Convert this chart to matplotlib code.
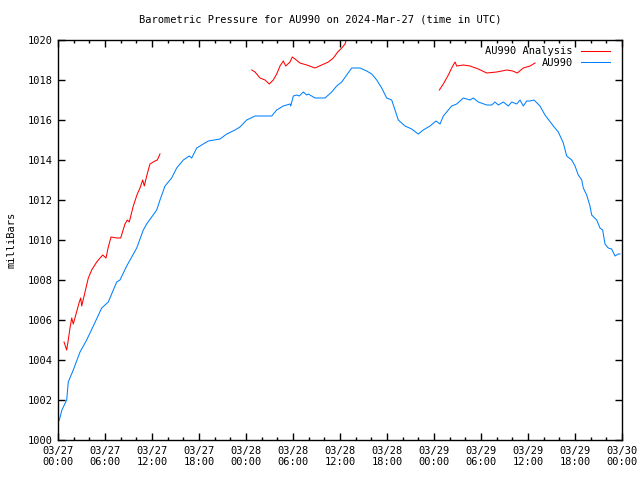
import numpy as np
import matplotlib
matplotlib.use("Agg")
import matplotlib.pyplot as plt
from matplotlib.ticker import MultipleLocator
from datetime import datetime, timedelta

# hours since 2024-03-27 00:00 UTC, pressure in mbar
BLUE_HOURS = [0, 0.17, 0.5, 1.11, 1.31, 1.95, 2.81, 3.66, 4.51, 5.58, 6.42, 7.49, 7.91,
              8.77, 10.05, 10.89, 11.32, 12.60, 13.02, 13.66, 14.51, 15.15, 16.0, 16.76,
              17.07, 17.71, 18.34, 19.19, 20.68, 21.54, 22.60, 23.23, 24.09, 25.15, 27.28,
              27.92, 28.76, 29.62, 29.71, 30.04, 30.47, 30.80, 31.31, 31.75, 31.95, 32.81,
              34.09, 34.94, 35.58, 36.22, 36.86, 37.49, 37.91, 38.55, 39.41, 40.05, 40.69,
              41.32, 41.96, 42.60, 43.02, 43.44, 44.30, 45.15, 45.99, 46.63, 47.49, 48.26,
              48.77, 49.19, 50.26, 50.90, 51.74, 52.60, 53.02, 53.66, 54.73, 55.37, 55.79,
              56.21, 56.85, 57.49, 57.92, 58.56, 58.98, 59.40, 59.83, 60.26, 60.77, 61.53,
              62.17, 63.23, 63.87, 64.51, 64.94, 65.58, 66.0, 66.42, 66.86, 67.06, 67.49,
              67.91, 68.13, 68.77, 69.19, 69.53, 69.83, 70.25, 70.68, 71.11, 71.53, 71.74]
BLUE_MBAR = [1000.9, 1001.0, 1001.5, 1002.0, 1002.9, 1003.5, 1004.4, 1005.0, 1005.7, 1006.6,
             1006.9, 1007.9, 1008.0, 1008.7, 1009.6, 1010.5, 1010.8, 1011.5, 1012.0, 1012.7,
             1013.1, 1013.6, 1014.0, 1014.2, 1014.1, 1014.6, 1014.75, 1014.95, 1015.05,
             1015.3, 1015.5, 1015.65, 1016.0, 1016.2, 1016.2, 1016.5, 1016.7, 1016.8, 1016.7,
             1017.2, 1017.25, 1017.2, 1017.4, 1017.25, 1017.3, 1017.1, 1017.1, 1017.4, 1017.7,
             1017.9, 1018.25, 1018.6, 1018.6, 1018.6, 1018.45, 1018.3, 1018.0, 1017.6, 1017.1,
             1017.0, 1016.5, 1016.0, 1015.7, 1015.55, 1015.3, 1015.5, 1015.7, 1015.95, 1015.8,
             1016.2, 1016.7, 1016.8, 1017.1, 1017.0, 1017.1, 1016.9, 1016.75, 1016.75, 1016.9,
             1016.75, 1016.9, 1016.7, 1016.9, 1016.8, 1017.0, 1016.7, 1016.95, 1016.95, 1017.0,
             1016.7, 1016.25, 1015.7, 1015.4, 1014.85, 1014.2, 1014.0, 1013.7, 1013.25, 1013.0,
             1012.6, 1012.25, 1011.7, 1011.25, 1011.0, 1010.6, 1010.5, 1009.8, 1009.6, 1009.55,
             1009.2, 1009.3, 1009.3]

# analysis series has gaps (nan)
RED_HOURS = [0.77, 1.11, 1.31, 1.53, 1.75, 1.95, 2.30, 2.72, 2.90, 3.03, 3.36, 3.87, 4.30,
             4.94, 5.36, 5.71, 6.13, 6.42, 6.77, 7.49, 8.0, 8.55, 8.85, 9.10, 9.61, 10.12,
             10.47, 10.81, 11.02, 11.32, 11.74, 12.38, 12.68, 13.02,
             18.0,
             24.73, 25.15, 25.79, 26.43, 26.97, 27.48, 27.92, 28.34, 28.76, 29.07, 29.62,
             29.91, 30.26, 30.89, 31.75, 32.81, 33.66, 34.51, 35.15, 35.71, 36.22, 36.64, 36.89,
             42.0,
             48.68, 49.19, 49.83, 50.26, 50.68, 50.90, 51.74, 52.60, 53.66, 54.73, 56.0,
             57.28, 58.04, 58.64, 59.40, 60.26, 60.90]
RED_MBAR = [1004.9, 1004.5, 1005.0, 1005.6, 1006.1, 1005.8, 1006.3, 1006.9, 1007.1, 1006.7,
            1007.25, 1008.1, 1008.5, 1008.9, 1009.1, 1009.25, 1009.1, 1009.65, 1010.15, 1010.1,
            1010.1, 1010.8, 1011.0, 1010.9, 1011.7, 1012.3, 1012.6, 1013.0, 1012.7, 1013.2,
            1013.8, 1013.95, 1014.0, 1014.3,
            np.nan,
            1018.5, 1018.4, 1018.1, 1018.0, 1017.8, 1018.0, 1018.3, 1018.7, 1018.95, 1018.7,
            1018.9, 1019.15, 1019.05, 1018.85, 1018.75, 1018.6, 1018.75, 1018.9, 1019.1,
            1019.4, 1019.6, 1019.8, 1020.1,
            np.nan,
            1017.5, 1017.8, 1018.25, 1018.6, 1018.9, 1018.7, 1018.75, 1018.7, 1018.55,
            1018.35, 1018.4, 1018.5, 1018.45, 1018.35, 1018.6, 1018.7, 1018.85]

START = datetime(2024, 3, 27)
TICK_HOURS = list(range(0, 73, 6))

plt.rcParams['font.family'] = 'DejaVu Sans Mono'
plt.rcParams['font.size'] = 7.5

fig = plt.figure(figsize=(6.4, 4.8), dpi=100)
ax = fig.add_axes([58 / 640, 40 / 480, 564 / 640, 400 / 480])

ax.plot(RED_HOURS, RED_MBAR, color='#ff0000', lw=0.75, label='AU990 Analysis')
ax.plot(BLUE_HOURS, BLUE_MBAR, color='#0080ff', lw=0.75, label='AU990')

ax.set_xlim(0, 72)
ax.set_ylim(1000, 1020)
ax.set_xticks(TICK_HOURS)
ax.set_xticklabels([(START + timedelta(hours=h)).strftime('%m/%d\n%H:%M') for h in TICK_HOURS])
ax.xaxis.set_minor_locator(MultipleLocator(2))
ax.yaxis.set_major_locator(MultipleLocator(2))
ax.tick_params(which='both', direction='in', top=True, right=True, width=1)
ax.tick_params(which='major', length=5, pad=4)
ax.tick_params(which='minor', length=2.5)
for s in ax.spines.values():
    s.set_linewidth(1)

ax.set_ylabel('milliBars', labelpad=8)
fig.text(0.5, 1 - 20 / 480, 'Barometric Pressure for AU990 on 2024-Mar-27 (time in UTC)',
         ha='center', va='center')

ax.legend(loc='upper right', frameon=False, markerfirst=False, handlelength=2.8,
          borderaxespad=0.2, labelspacing=0.15, handletextpad=0.8,
          bbox_to_anchor=(0.99, 1.0))

fig.savefig('out.png', dpi=100)
